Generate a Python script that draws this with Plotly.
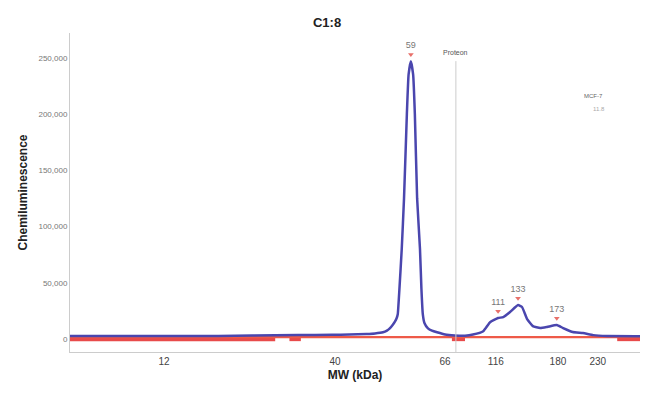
import plotly.graph_objects as go

# Electropherogram (x = migration position 0-100, labelled by MW in kDa)
pos = [0, 10, 20, 26, 32, 40, 46, 49, 52, 53.5, 54.9, 55.6, 56.1, 56.6, 57.0, 57.3, 57.5, 57.8, 58.2, 58.6, 59.1, 59.4,
       59.8, 60.2, 60.5, 60.9, 61.4, 61.65, 61.9, 62.2, 62.8, 63.5, 64.4, 65.8, 67.5, 69.3, 70.7, 72.5, 73.7,
       75.1, 76.0, 77.2, 78.6, 79.3, 80.2, 81.2, 82.5, 83.7, 85.4, 86.5, 88.2, 90.0, 91.8, 94.2, 100]
signal = [2700, 2700, 2700, 2800, 3100, 3500, 3800, 4000, 4500, 5000, 6000, 7500, 9500, 12500, 15500, 18500, 22000, 45000,
          80000, 125000, 200000, 235000, 247000, 235000, 200000, 125000, 80000, 45000, 22000, 14000, 9500,
          7500, 6000, 4000, 3200, 3000, 4000, 7000, 15000, 18700, 19500, 24000, 30250, 28500, 17800, 11500,
          9800, 10700, 12450, 9800, 6200, 5300, 3500, 2700, 2600]

baseline_pos = [0, 100]
baseline_val = [1800, 1800]

# Excluded segments (red bars under the baseline)
seg_start = [0, 38.5, 67.0, 96.0]
seg_end = [36.0, 40.5, 69.3, 100]
seg_val = -300

# Peaks
peak_pos = [59.8, 75.1, 78.6, 85.4]
peak_val = [247000, 18700, 30250, 12450]
peak_lbl = ["59", "111", "133", "173"]

# MW axis labels
mw_labels = ["12", "40", "66", "116", "180", "230"]
mw_pos = [16.5, 46.5, 65.8, 74.7, 85.6, 92.6]

protein_pos = 67.7

fig = go.Figure()

for s, e in zip(seg_start, seg_end):
    fig.add_trace(go.Scatter(x=[s, e], y=[seg_val, seg_val], mode="lines",
                             line=dict(color="#e84a4a", width=3.5), showlegend=False,
                             hoverinfo="skip"))

fig.add_trace(go.Scatter(x=baseline_pos, y=baseline_val, mode="lines",
                         line=dict(color="#ee5a48", width=2.2), showlegend=False))

fig.add_trace(go.Scatter(x=pos, y=signal, mode="lines",
                         line=dict(color="#4a46ae", width=2.5, shape="spline", smoothing=0.4),
                         showlegend=False))

# peak markers
fig.add_trace(go.Scatter(x=peak_pos, y=[v + 6000 for v in peak_val], mode="markers+text",
                         marker=dict(symbol="triangle-down", size=5, color="#e8706a"),
                         text=peak_lbl, textposition="top center",
                         textfont=dict(size=9, color="#777777", family="Liberation Sans"),
                         showlegend=False))

fig.add_shape(type="line", x0=protein_pos, x1=protein_pos, y0=-11500, y1=247000,
              xref="x", yref="y", line=dict(color="#cccccc", width=1))
fig.add_annotation(x=protein_pos, y=255000, text="Proteon", showarrow=False,
                   font=dict(size=7, color="#555555", family="Liberation Sans"))

fig.add_annotation(x=0.938, y=0.817, xref="paper", yref="paper", text="MCF-7", showarrow=False,
                   font=dict(size=6, color="#666666", family="Liberation Sans"))
fig.add_annotation(x=0.942, y=0.776, xref="paper", yref="paper", text="11.8", showarrow=False,
                   font=dict(size=6, color="#aaaaaa", family="Liberation Sans"))

# page has an 8px body margin: figure is sized/margined so the plot lands at the target pixels
fig.update_layout(
    width=642, height=388,
    margin=dict(l=62, r=10, t=25, b=44, autoexpand=False),
    paper_bgcolor="white", plot_bgcolor="white",
    font=dict(family="Liberation Sans", color="#666666"),
    title=dict(text="<b>C1:8</b>", x=0.497, xanchor="center", y=0.964, yanchor="middle",
               font=dict(size=13, color="#222222")),
)
fig.update_xaxes(range=[0, 100], tickvals=mw_pos, ticktext=mw_labels, showgrid=False,
                 zeroline=False, showline=True, linecolor="#cccccc", linewidth=1, ticks="",
                 automargin=False,
                 tickfont=dict(size=10, color="#444444"),
                 title=dict(text="<b>MW (kDa)</b>", font=dict(size=12, color="#222222"), standoff=4))
fig.update_yaxes(range=[-11500, 272000], tickvals=[0, 50000, 100000, 150000, 200000, 250000],
                 tickformat=",", showgrid=False, zeroline=False, showline=True,
                 linecolor="#cccccc", linewidth=1, ticks="", automargin=False,
                 tickfont=dict(size=8, color="#777777"),
                 title=dict(text="<b>Chemiluminescence</b>", font=dict(size=12, color="#222222"),
                            standoff=8))

fig.write_html("out.html")
